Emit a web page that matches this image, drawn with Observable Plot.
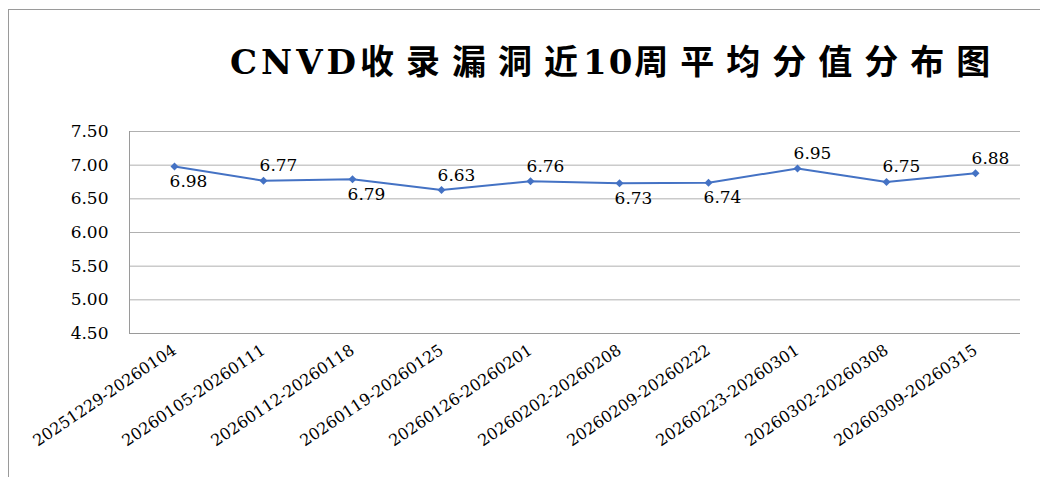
<!DOCTYPE html>
<html><head><meta charset="utf-8">
<script src="https://cdn.jsdelivr.net/npm/d3@7"></script>
<script src="https://cdn.jsdelivr.net/npm/@observablehq/plot@0.6"></script>
<style>
html,body{margin:0;padding:0;background:#fff;width:1040px;height:477px;overflow:hidden;position:relative}
#frame{position:absolute;left:8px;top:9px;width:1040px;height:480px;border-left:1px solid #9a9a9a;border-top:1px solid #9a9a9a}
#title{position:absolute;left:230px;top:42px;font:bold 34px "DejaVu Serif","Noto Sans CJK SC",serif;white-space:nowrap;color:#000;line-height:40px}
#title .cjk{letter-spacing:12px}
#title .tight{letter-spacing:5px}
#title .lat{letter-spacing:4px}
#title .num{letter-spacing:2px}
#chart{position:absolute;left:0;top:100px}
</style></head><body>
<div id="frame"></div>
<div id="title"><span class="lat">CNVD</span><span class="cjk">收录漏洞</span><span class="tight">近</span><span class="num">10</span><span class="cjk">周平均分值分布图</span></div>
<div id="chart"></div>
<script>
// Data
const weeks = [
  "20251229-20260104","20260105-20260111","20260112-20260118","20260119-20260125",
  "20260126-20260201","20260202-20260208","20260209-20260222","20260223-20260301",
  "20260302-20260308","20260309-20260315"
];
const scores = [6.98, 6.77, 6.79, 6.63, 6.76, 6.73, 6.74, 6.95, 6.75, 6.88];
const yTicks = [4.5, 5.0, 5.5, 6.0, 6.5, 7.0, 7.5];

const data = weeks.map((w, i) => ({week: w, score: scores[i]}));
// data labels drawn under the marker in the reference
const belowWeeks = new Set([weeks[0], weeks[2], weeks[5], weeks[6]]);

const serif = "'DejaVu Serif', 'Liberation Serif', serif";
const blue = "#4472C4";

const chart = Plot.plot({
  width: 1040,
  height: 377,
  marginLeft: 129,
  marginRight: 20,
  marginTop: 31,
  marginBottom: 144,
  style: {fontFamily: serif, fontSize: "17px", color: "#000", background: "transparent"},
  x: {type: "point", domain: weeks, padding: 0.5, label: null},
  y: {domain: [4.5, 7.5], label: null},
  marks: [
    Plot.ruleY(yTicks.slice(1), {stroke: "#b0b0b0", strokeWidth: 1}),
    Plot.ruleY([4.5], {stroke: "#9a9a9a", strokeWidth: 1}),
    Plot.frame({anchor: "left", stroke: "#9a9a9a"}),
    Plot.axisY({ticks: yTicks, tickFormat: d3.format(".2f"), tickSize: 0, tickPadding: 21, fontSize: 17, fontFamily: serif}),
    Plot.axisX({tickSize: 0, tickRotate: -34, tickPadding: 15, fontSize: 16, fontFamily: serif}),
    Plot.line(data, {x: "week", y: "score", stroke: blue, strokeWidth: 2}),
    Plot.dot(data, {x: "week", y: "score", symbol: "diamond2", r: 3.6, fill: blue, stroke: "none"}),
    Plot.text(data.filter(d => !belowWeeks.has(d.week)), {x: "week", y: "score", text: d => d.score.toFixed(2), dx: 15, dy: -15, fontSize: 17, fill: "#000"}),
    Plot.text(data.filter(d => belowWeeks.has(d.week)), {x: "week", y: "score", text: d => d.score.toFixed(2), dx: 14, dy: 15, fontSize: 17, fill: "#000"})
  ]
});
document.getElementById("chart").appendChild(chart);
</script>
</body></html>
